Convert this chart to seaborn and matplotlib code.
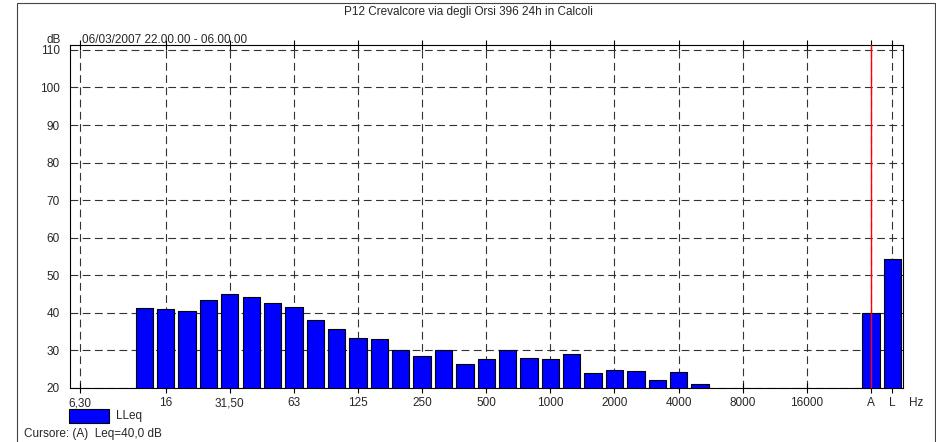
import numpy as np
import pandas as pd
import matplotlib
matplotlib.use("Agg")
import matplotlib.pyplot as plt
from matplotlib.patches import Rectangle
import seaborn as sns

# third-octave bands (Hz) and measured levels (dB), None = no data
bands = ["6,3", "8", "10", "12,5", "16", "20", "25", "31,5", "40", "50",
         "63", "80", "100", "125", "160", "200", "250", "315", "400", "500",
         "630", "800", "1000", "1250", "1600", "2000", "2500", "3150", "4000", "5000",
         "6300", "8000", "10000", "12500", "16000", "20000"]
levels = [None, None, None, 41.2, 41.0, 40.5, 43.4, 45.1, 44.2, 42.7,
          41.6, 38.1, 35.8, 33.3, 33.0, 30.0, 28.6, 30.0, 26.5, 27.8,
          30.0, 28.0, 27.8, 29.1, 24.0, 24.9, 24.6, 22.2, 24.3, 21.0,
          None, None, None, None, None, None]

# overall weighted levels
totals = ["A", "L"]
total_levels = [40.0, 54.3]

tick_bands = ["6,3", "16", "31,5", "63", "125", "250", "500", "1000",
              "2000", "4000", "8000", "16000", "A", "L"]
tick_text = ["6,30", "16", "31,50", "63", "125", "250", "500", "1000",
             "2000", "4000", "8000", "16000", "A", "L"]
y_ticks = [20, 30, 40, 50, 60, 70, 80, 90, 100, 110]

title = "P12 Crevalcore via degli Orsi 396 24h in Calcoli"
period = "06/03/2007 22.00.00 - 06.00.00"
cursor_text = "Cursore: (A)  Leq=40,0 dB"

order = bands + [" "] + totals
df = pd.DataFrame({"band": bands + totals, "level": levels + total_levels})
df = df.dropna(subset=["level"])

sns.set_style("white")
plt.rcParams["font.family"] = ["Liberation Sans", "DejaVu Sans"]
plt.rcParams["font.size"] = 8.5

W, H = 937, 442
fig = plt.figure(figsize=(W / 100, H / 100), dpi=100)
ax = fig.add_axes([69.5 / W, 1 - 388.3 / H, (903 - 69.5) / W, (388.3 - 44.5) / H])

sns.barplot(data=df, x="band", y="level", order=order, color="#0000FF",
            saturation=1, edgecolor="black", linewidth=0.8, width=0.81,
            errorbar=None, ax=ax, zorder=3)

ax.set_xlim(-0.5, 38.5)
ax.set_ylim(19.9, 111.45)
ax.set_xlabel("")
ax.set_ylabel("")

ax.set_yticks(y_ticks)
ax.set_yticklabels([str(t) for t in y_ticks])
ax.set_xticks([order.index(b) for b in tick_bands])
ax.set_xticklabels(tick_text)

ax.tick_params(axis="y", direction="out", length=5, width=0.8, color="black", pad=2)
ax.tick_params(axis="x", direction="inout", length=7, width=0.8, color="black",
               top=True, bottom=True, pad=3)

ax.set_axisbelow(True)
ax.grid(True, color="#333333", linestyle=(0, (7, 4)), linewidth=0.8)
for s in ax.spines.values():
    s.set_color("black")
    s.set_linewidth(0.8)

# cursor on A
ax.axvline(order.index("A"), color="red", linewidth=1, zorder=5)

# unit label after the last tick
fig.text(916.5 / W, 1 - 396.5 / H, "Hz", ha="center", va="top")

fig.text(468.5 / W, 1 - 12.5 / H, title, ha="center", va="center")
fig.text(46.7 / W, 1 - 43.3 / H, "dB", ha="left", va="baseline")
fig.text(82.3 / W, 1 - 43.3 / H, period, ha="left", va="baseline")
fig.text(24 / W, 1 - 434 / H, cursor_text, ha="left", va="center")

leg = ax.legend([ax.patches[3]], ["LLeq"], loc="upper left",
                bbox_to_anchor=(69 / W, 1 - 408.5 / H), bbox_transform=fig.transFigure,
                frameon=False, handlelength=3.4, handleheight=1.45,
                handletextpad=0.6, borderpad=0, borderaxespad=0)

# outer frame of the report
fig.patches.append(Rectangle((17 / W, -0.02), (935 - 17) / W, 1.02 - 3 / H,
                             transform=fig.transFigure, fill=False,
                             edgecolor="#444444", linewidth=0.8))

fig.savefig("out.png", dpi=100)
